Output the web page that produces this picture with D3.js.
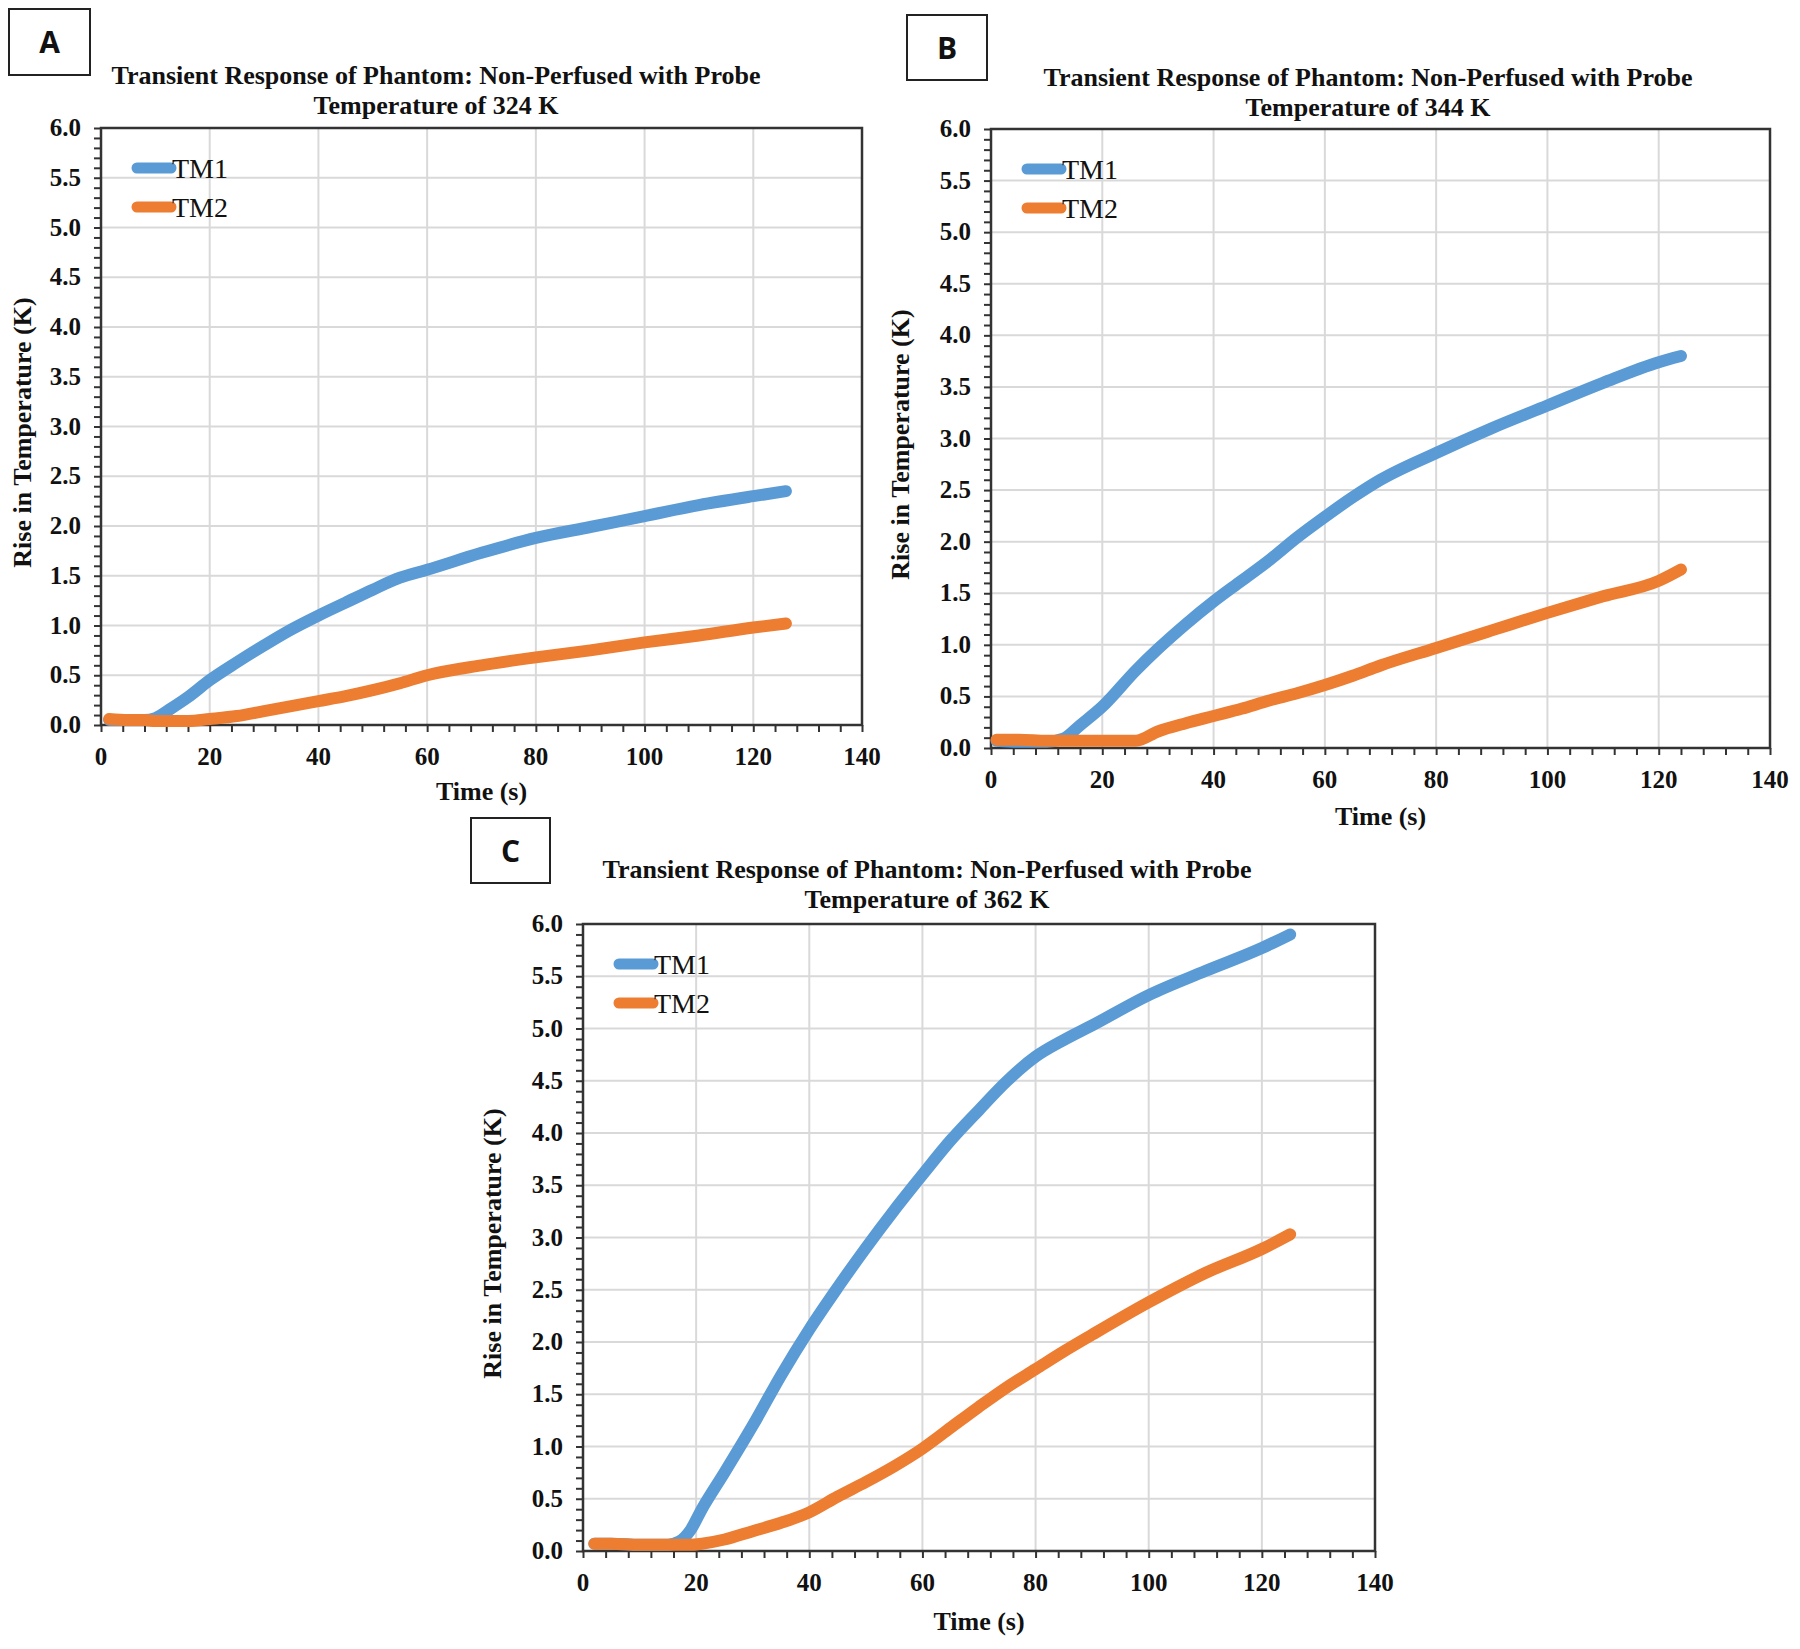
<!DOCTYPE html>
<html>
<head>
<meta charset="utf-8">
<script src="https://cdn.jsdelivr.net/npm/d3@7"></script>
<style>
  body { margin: 0; background: #fff; }
  svg { display: block; }
</style>
</head>
<body>
<svg id="fig" width="1800" height="1649"></svg>
<script>
// values: time (s) and rise in temperature (K)
const timeA = [1.5, 5, 8, 10, 13, 16, 20, 25, 30, 35, 40, 45, 50, 55, 60, 70, 80, 90, 100, 110, 120, 126];
const tm1A  = [0.05, 0.05, 0.05, 0.07, 0.17, 0.28, 0.45, 0.63, 0.80, 0.96, 1.10, 1.23, 1.36, 1.48, 1.56, 1.73, 1.88, 1.99, 2.10, 2.21, 2.30, 2.35];
const tm2A  = [0.06, 0.05, 0.05, 0.04, 0.04, 0.04, 0.06, 0.09, 0.14, 0.19, 0.24, 0.29, 0.35, 0.42, 0.50, 0.60, 0.68, 0.75, 0.83, 0.90, 0.98, 1.02];

const timeB = [1, 5, 10, 13, 16, 20, 26, 30, 35, 40, 45, 50, 55, 60, 65, 70, 80, 90, 100, 110, 120, 124];
const tm1B  = [0.07, 0.06, 0.06, 0.09, 0.22, 0.40, 0.75, 0.96, 1.20, 1.42, 1.62, 1.82, 2.04, 2.24, 2.43, 2.60, 2.86, 3.10, 3.32, 3.54, 3.74, 3.80];
const tm2B  = [0.08, 0.08, 0.07, 0.07, 0.07, 0.07, 0.07, 0.16, 0.24, 0.31, 0.38, 0.46, 0.53, 0.61, 0.70, 0.80, 0.97, 1.14, 1.31, 1.47, 1.62, 1.73];

const timeC = [2, 5, 10, 15, 17, 19, 21, 25, 30, 35, 40, 45, 50, 55, 60, 65, 70, 75, 80, 85, 90, 100, 110, 120, 125];
const tm1C  = [0.07, 0.07, 0.06, 0.06, 0.09, 0.20, 0.40, 0.75, 1.20, 1.68, 2.12, 2.52, 2.90, 3.26, 3.60, 3.93, 4.22, 4.50, 4.73, 4.89, 5.03, 5.32, 5.55, 5.77, 5.90];
const tm2C  = [0.07, 0.07, 0.06, 0.06, 0.06, 0.06, 0.07, 0.11, 0.19, 0.27, 0.37, 0.52, 0.66, 0.81, 0.98, 1.18, 1.38, 1.57, 1.74, 1.91, 2.07, 2.38, 2.66, 2.89, 3.03];

const probeTemps = ["324", "344", "362"];
const panelTags = ["A", "B", "C"];
const seriesNames = ["TM1", "TM2"];
const seriesColors = ["#5b9bd5", "#ed7d31"];

const xDomain = [0, 140];
const yDomain = [0, 6];
const xMajor = d3.range(0, 141, 20);
const xMinor = d3.range(0, 141, 4);
const yMajor = d3.range(0, 6.01, 0.5);
const yMinor = d3.range(0, 6.001, 0.1);

const serif = '"Liberation Serif", "Times New Roman", Times, serif';

// page layout of the three panels
const panels = [
  { tag: 0, time: timeA, s1: tm1A, s2: tm2A, left: 101, right: 862, top: 128, bottom: 725,
    box: [9, 9, 81, 66], titleX: 436, titleY: 84, yLabX: 22, xLabY: 800 },
  { tag: 1, time: timeB, s1: tm1B, s2: tm2B, left: 991, right: 1770, top: 129, bottom: 748,
    box: [907, 15, 80, 65], titleX: 1368, titleY: 86, yLabX: 900, xLabY: 825 },
  { tag: 2, time: timeC, s1: tm1C, s2: tm2C, left: 583, right: 1375, top: 924, bottom: 1551,
    box: [471, 818, 79, 65], titleX: 927, titleY: 878, yLabX: 492, xLabY: 1630 }
];

function serifText(sel, size, weight) {
  return sel.style("font-family", serif)
    .style("font-size", size + "px")
    .style("font-weight", weight)
    .style("fill", "#111");
}

function drawPanel(svg, p) {
  const g = svg.append("g");
  const x = d3.scaleLinear().domain(xDomain).range([p.left, p.right]);
  const y = d3.scaleLinear().domain(yDomain).range([p.bottom, p.top]);

  // grid
  g.selectAll(".vgrid").data(xMajor.slice(1, -1)).enter().append("line")
    .attr("x1", d => x(d)).attr("x2", d => x(d))
    .attr("y1", p.top).attr("y2", p.bottom)
    .attr("stroke", "#d9d9d9").attr("stroke-width", 2);
  g.selectAll(".hgrid").data(yMajor.slice(1, -1)).enter().append("line")
    .attr("x1", p.left).attr("x2", p.right)
    .attr("y1", d => y(d)).attr("y2", d => y(d))
    .attr("stroke", "#d9d9d9").attr("stroke-width", 2);

  // minor/major ticks
  const axX = g.append("g").attr("transform", `translate(0,${p.bottom})`)
    .call(d3.axisBottom(x).tickValues(xMinor).tickSize(7).tickFormat(""));
  const axY = g.append("g").attr("transform", `translate(${p.left},0)`)
    .call(d3.axisLeft(y).tickValues(yMinor).tickSize(7).tickFormat(""));
  [axX, axY].forEach(a => {
    a.select(".domain").remove();
    a.selectAll(".tick line").attr("stroke", "#333").attr("stroke-width", 2);
  });

  // tick labels
  g.selectAll(".xl").data(xMajor).enter().append("text")
    .attr("text-anchor", "middle")
    .attr("x", d => x(d)).attr("y", p.bottom + 40)
    .text(d => d)
    .call(serifText, 25, "bold");
  g.selectAll(".yl").data(yMajor).enter().append("text")
    .attr("text-anchor", "end")
    .attr("x", p.left - 20).attr("y", d => y(d) + 8)
    .text(d => d.toFixed(1))
    .call(serifText, 25, "bold");

  // frame
  g.append("rect")
    .attr("x", p.left).attr("y", p.top)
    .attr("width", p.right - p.left).attr("height", p.bottom - p.top)
    .attr("fill", "none").attr("stroke", "#333").attr("stroke-width", 2.5);

  // series
  const line = d3.line().curve(d3.curveMonotoneX)
    .x(d => x(d[0])).y(d => y(d[1]));
  [p.s1, p.s2].forEach((vals, i) => {
    g.append("path")
      .datum(p.time.map((t, k) => [t, vals[k]]))
      .attr("fill", "none")
      .attr("stroke", seriesColors[i])
      .attr("stroke-width", 12)
      .attr("stroke-linecap", "round")
      .attr("stroke-linejoin", "round")
      .attr("d", line);
  });

  // legend
  seriesNames.forEach((name, i) => {
    const ly = p.top + 40 + i * 39;
    g.append("line")
      .attr("x1", p.left + 36).attr("x2", p.left + 70)
      .attr("y1", ly).attr("y2", ly)
      .attr("stroke", seriesColors[i]).attr("stroke-width", 11)
      .attr("stroke-linecap", "round");
    g.append("text")
      .attr("x", p.left + 71).attr("y", ly + 10)
      .text(name)
      .call(serifText, 28, "normal");
  });

  // titles
  g.append("text").attr("text-anchor", "middle")
    .attr("x", p.titleX).attr("y", p.titleY)
    .text("Transient Response of Phantom: Non-Perfused with Probe")
    .call(serifText, 26, "bold");
  g.append("text").attr("text-anchor", "middle")
    .attr("x", p.titleX).attr("y", p.titleY + 30)
    .text(`Temperature of ${probeTemps[p.tag]} K`)
    .call(serifText, 26, "bold");

  g.append("text").attr("text-anchor", "middle")
    .attr("x", (p.left + p.right) / 2).attr("y", p.xLabY)
    .text("Time (s)")
    .call(serifText, 26, "bold");
  const yc = (p.top + p.bottom) / 2 + 6;
  g.append("text").attr("text-anchor", "middle")
    .attr("transform", `translate(${p.yLabX},${yc}) rotate(-90)`)
    .attr("dy", "0.35em")
    .text("Rise in Temperature (K)")
    .call(serifText, 26, "bold");

  // panel letter box
  const [bx, by, bw, bh] = p.box;
  g.append("rect").attr("x", bx).attr("y", by).attr("width", bw).attr("height", bh)
    .attr("fill", "#fff").attr("stroke", "#222").attr("stroke-width", 2);
  g.append("text").attr("text-anchor", "middle")
    .attr("x", bx + bw / 2).attr("y", by + bh / 2 + 11)
    .text(panelTags[p.tag])
    .style("font-family", '"Open Sans", "DejaVu Sans", sans-serif')
    .style("font-weight", 700).style("font-size", "30px").style("fill", "#111");
}

const svg = d3.select("#fig");
panels.forEach(p => drawPanel(svg, p));
</script>
</body>
</html>
